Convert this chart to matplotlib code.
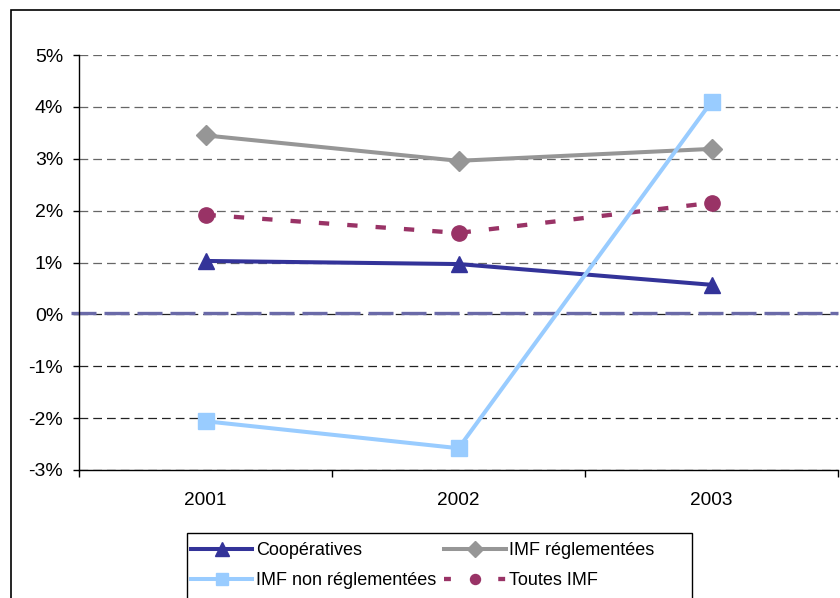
import matplotlib
matplotlib.use("Agg")
import matplotlib.pyplot as plt
from matplotlib.patches import Rectangle
from matplotlib.lines import Line2D
from matplotlib.ticker import FuncFormatter, FixedLocator

plt.rcParams['font.family'] = ['Liberation Sans', 'DejaVu Sans']

years = ["2001", "2002", "2003"]
cooperatives = [1.03, 0.97, 0.57]
imf_reg = [3.45, 2.96, 3.19]
imf_non_reg = [-2.06, -2.58, 4.10]
toutes_imf = [1.92, 1.57, 2.15]

W, H = 840, 598
fig = plt.figure(figsize=(W / 100, H / 100), dpi=100)

# outer frame (cut by figure edges on right/bottom)
fig.patches.append(Rectangle((11 / W, -0.1), 2.0, 1 - 10 / H + 0.1,
                             transform=fig.transFigure, fill=False,
                             edgecolor='black', linewidth=1.2))

x0, x1, y0, y1 = 79, 838, 55, 470
ax = fig.add_axes([x0 / W, 1 - y1 / H, (x1 - x0) / W, (y1 - y0) / H])

x = list(range(len(years)))
ax.set_xlim(-0.5, len(years) - 0.5)
ax.set_ylim(-3, 5)

# grid lines
for v in [-3, -2, -1, 0, 1, 2, 3, 4, 5]:
    col = '#666666' if v > 0 else '#222222'
    ax.axhline(v, color=col, linestyle=(0, (7, 4)), linewidth=0.9, zorder=1)
# thick slate dashed zero line extending slightly left of axis
ax.plot([-0.53, 2.5], [0.02, 0.02], color='#6a6aa8', linestyle=(0, (7.5, 2.4)),
        linewidth=2.4, clip_on=False, zorder=2)

l_reg, = ax.plot(x, imf_reg, color='#969696', linewidth=2.9, marker='D', markersize=10,
                 label='IMF réglementées', zorder=3)
l_tout, = ax.plot(x, toutes_imf, color='#993366', linewidth=3.1, linestyle=(0, (2.4, 4.2)),
                  marker='o', markersize=11, label='Toutes IMF', zorder=3)
l_coop, = ax.plot(x, cooperatives, color='#333399', linewidth=2.9, marker='^', markersize=12,
                  label='Coopératives', zorder=4)
l_non, = ax.plot(x, imf_non_reg, color='#99ccff', linewidth=2.9, marker='s', markersize=11,
                 label='IMF non réglementées', zorder=4)

# axes styling
for s in ['top', 'right']:
    ax.spines[s].set_visible(False)
ax.spines['left'].set_linewidth(1.0)
ax.spines['bottom'].set_linewidth(1.0)
ax.spines['bottom'].set_bounds(-0.5, 2.5)

ax.set_yticks(range(-3, 6))
ax.yaxis.set_major_formatter(FuncFormatter(lambda v, p: f"{int(round(v))}%"))
ax.tick_params(axis='y', length=4.5, width=1, labelsize=14, pad=7)

ax.set_xticks(x)
ax.set_xticklabels(years)
ax.xaxis.set_minor_locator(FixedLocator([-0.5, 0.5, 1.5, 2.5]))
ax.tick_params(axis='x', which='major', length=0, labelsize=13.7, pad=16)
ax.tick_params(axis='x', which='minor', length=5, width=1)

# legend frame (cut by bottom of figure)
fig.patches.append(Rectangle((187 / W, -0.1), (692 - 187) / W, 1 - 533 / H + 0.1,
                             transform=fig.transFigure, fill=False,
                             edgecolor='black', linewidth=1.0))

tout_handle = Line2D([], [], color='#993366', linewidth=3.1,
                     linestyle=(0, (1.6, 11.0)), marker='o', markersize=9)
handles = [l_coop, l_non, l_reg, tout_handle]
labels = ['Coopératives', 'IMF non réglementées', 'IMF réglementées', 'Toutes IMF']
leg = fig.legend(handles, labels,
                 loc='upper left', bbox_to_anchor=(191 / W, 1 - 542 / H),
                 ncol=2, fontsize=13, frameon=False,
                 handlelength=3.4, handletextpad=0.2,
                 columnspacing=0.45, borderpad=0, labelspacing=0.74,
                 borderaxespad=0, markerscale=0.8)

fig.savefig("out.png", dpi=100)
